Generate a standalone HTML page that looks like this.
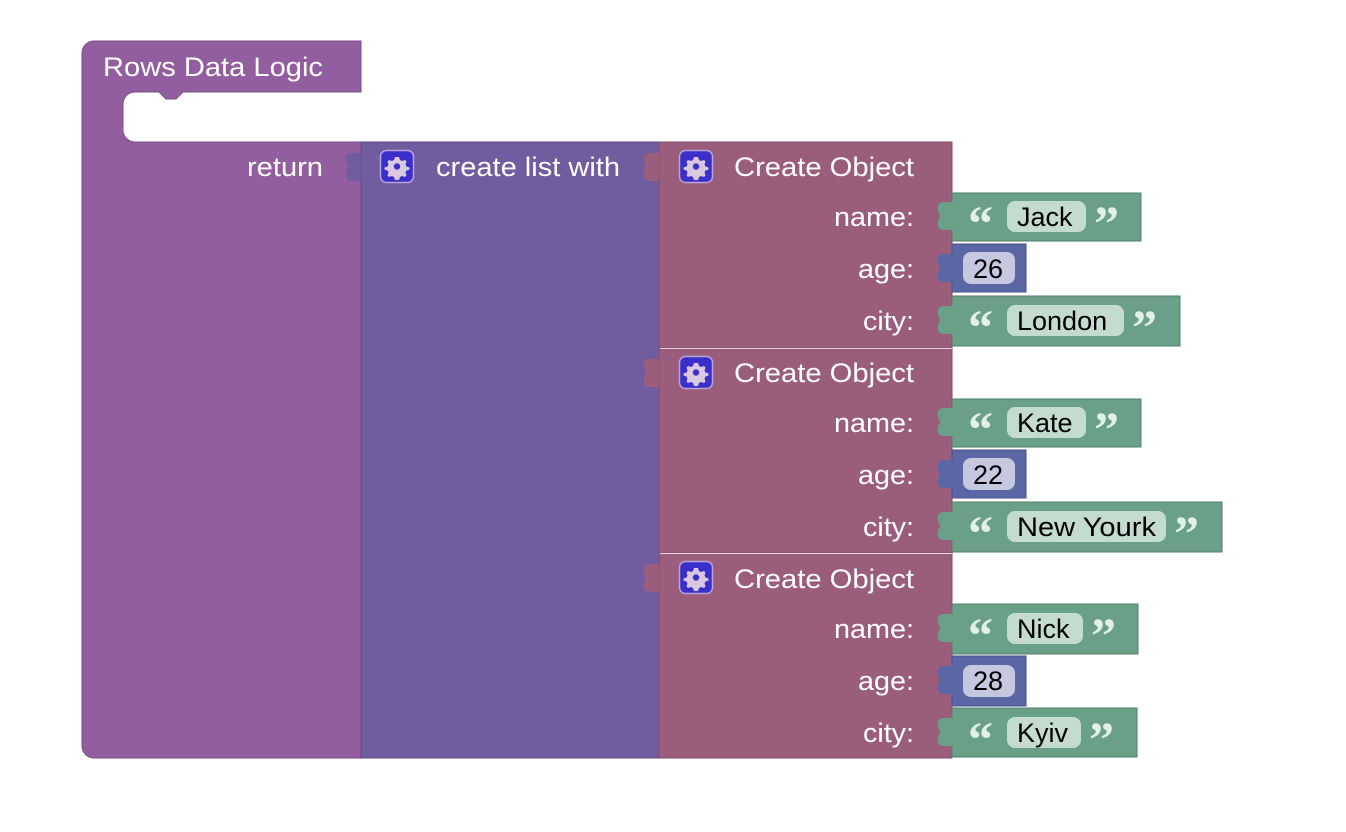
<!DOCTYPE html>
<html><head><meta charset="utf-8"><style>
html,body{margin:0;padding:0;background:#fff;width:1346px;height:832px;overflow:hidden}
text{font-family:"Liberation Sans",Arial,sans-serif;font-size:27px}
.w{fill:#fff}
.b{fill:#000}
.q{font-family:"Liberation Serif",serif;font-weight:bold;font-size:50px;fill:#e2f0e8}
</style></head><body>
<svg width="1346" height="832" viewBox="0 0 1346 832" xmlns="http://www.w3.org/2000/svg">
<defs>
<path id="tab" d="M16,0 H7 C3,0 1,2 1,5 C0,10 3,12 3,14 C3,16 0,18 1,23 C1,26 3,28 7,28 H16 Z"/>
<g id="gear">
<rect x="0.5" y="0.5" width="33" height="32" rx="6" fill="#3b2fcc" stroke="#b9a6d6" stroke-width="1.5"/>
<path d="M17,7 l2,0 1,3 2,1 3,-1 1.5,1.5 -1,3 1,2 3,1 0,2 -3,1 -1,2 1,3 -1.5,1.5 -3,-1 -2,1 -1,3 h-4 l-1,-3 -2,-1 -3,1 -1.5,-1.5 1,-3 -1,-2 -3,-1 v-2 l3,-1 1,-2 -1,-3 1.5,-1.5 3,1 2,-1 1,-3 z" fill="#d9c8e0"/>
<circle cx="17" cy="16.5" r="3.2" fill="#3b2fcc"/>
</g>
</defs>
<path d="M82,53 a12,12 0 0 1 12,-12 H361 V92 H183 l-7,7 h-10 l-7,-7 H135 a12,12 0 0 0 -12,12 V130 a12,12 0 0 0 12,12 H361 V758 H94 a12,12 0 0 1 -12,-12 Z" fill="#925e9f" stroke="#7c4c88" stroke-width="1"/>
<text x="103" y="76" class="w" textLength="220" lengthAdjust="spacingAndGlyphs">Rows Data Logic</text>
<text x="247" y="176" class="w" textLength="76" lengthAdjust="spacingAndGlyphs">return</text>
<rect x="361" y="142" width="298" height="616" fill="#705c9e" stroke="#5e4b8a" stroke-width="1"/>
<use href="#tab" x="345" y="153" fill="#705c9e"/>
<use href="#gear" x="380" y="150"/>
<text x="436" y="176" class="w" textLength="184" lengthAdjust="spacingAndGlyphs">create list with</text>

<rect x="659" y="142" width="293" height="206" fill="#9a5e7c" stroke="#824a66" stroke-width="1"/>
<rect x="659" y="348" width="293" height="205" fill="#9a5e7c" stroke="#824a66" stroke-width="1"/>
<rect x="659" y="553" width="293" height="205" fill="#9a5e7c" stroke="#824a66" stroke-width="1"/>
<line x1="660" y1="348.5" x2="952" y2="348.5" stroke="#e8d6e0" stroke-width="1"/>
<line x1="660" y1="553.5" x2="952" y2="553.5" stroke="#e8d6e0" stroke-width="1"/>
<use href="#tab" x="643" y="153" fill="#9a5e7c"/>
<use href="#tab" x="643" y="359" fill="#9a5e7c"/>
<use href="#tab" x="643" y="564" fill="#9a5e7c"/>
<use href="#gear" x="679" y="150"/>
<use href="#gear" x="679" y="356"/>
<use href="#gear" x="679" y="561"/>
<text x="734" y="176" class="w" textLength="180" lengthAdjust="spacingAndGlyphs">Create Object</text>
<text x="734" y="382" class="w" textLength="180" lengthAdjust="spacingAndGlyphs">Create Object</text>
<text x="734" y="588" class="w" textLength="180" lengthAdjust="spacingAndGlyphs">Create Object</text>
<text x="834" y="226" class="w" textLength="80" lengthAdjust="spacingAndGlyphs">name:</text>
<text x="858" y="278" class="w" textLength="56" lengthAdjust="spacingAndGlyphs">age:</text>
<text x="863" y="330" class="w" textLength="51" lengthAdjust="spacingAndGlyphs">city:</text>
<text x="834" y="432" class="w" textLength="80" lengthAdjust="spacingAndGlyphs">name:</text>
<text x="858" y="484" class="w" textLength="56" lengthAdjust="spacingAndGlyphs">age:</text>
<text x="863" y="536" class="w" textLength="51" lengthAdjust="spacingAndGlyphs">city:</text>
<text x="834" y="638" class="w" textLength="80" lengthAdjust="spacingAndGlyphs">name:</text>
<text x="858" y="690" class="w" textLength="56" lengthAdjust="spacingAndGlyphs">age:</text>
<text x="863" y="742" class="w" textLength="51" lengthAdjust="spacingAndGlyphs">city:</text>

<rect x="952" y="193" width="189" height="48" fill="#6aa088" stroke="#4f7f68" stroke-width="1"/>
<use href="#tab" x="937" y="202" fill="#6aa088"/>
<text x="968" y="240" class="q">“</text>
<rect x="1007" y="201" width="79" height="31" rx="8" fill="#c4dccf"/>
<text x="1017" y="226" class="b">Jack</text>
<text x="1094" y="240" class="q">”</text>
<rect x="952" y="244" width="74" height="48" fill="#5b67a5" stroke="#46528a" stroke-width="1"/>
<use href="#tab" x="937" y="254" fill="#5b67a5"/>
<rect x="963" y="252" width="52" height="32" rx="8" fill="#c6c8e0"/>
<text x="973" y="278" class="b">26</text>
<rect x="952" y="296" width="228" height="50" fill="#6aa088" stroke="#4f7f68" stroke-width="1"/>
<use href="#tab" x="937" y="306" fill="#6aa088"/>
<text x="968" y="344" class="q">“</text>
<rect x="1007" y="305" width="117" height="31" rx="8" fill="#c4dccf"/>
<text x="1017" y="330" class="b">London</text>
<text x="1132" y="344" class="q">”</text>

<rect x="952" y="399" width="189" height="48" fill="#6aa088" stroke="#4f7f68" stroke-width="1"/>
<use href="#tab" x="937" y="408" fill="#6aa088"/>
<text x="968" y="446" class="q">“</text>
<rect x="1007" y="407" width="79" height="31" rx="8" fill="#c4dccf"/>
<text x="1017" y="432" class="b">Kate</text>
<text x="1094" y="446" class="q">”</text>
<rect x="952" y="450" width="74" height="48" fill="#5b67a5" stroke="#46528a" stroke-width="1"/>
<use href="#tab" x="937" y="460" fill="#5b67a5"/>
<rect x="963" y="458" width="52" height="32" rx="8" fill="#c6c8e0"/>
<text x="973" y="484" class="b">22</text>
<rect x="952" y="502" width="270" height="50" fill="#6aa088" stroke="#4f7f68" stroke-width="1"/>
<use href="#tab" x="937" y="512" fill="#6aa088"/>
<text x="968" y="550" class="q">“</text>
<rect x="1007" y="511" width="159" height="31" rx="8" fill="#c4dccf"/>
<text x="1017" y="536" class="b" textLength="139" lengthAdjust="spacingAndGlyphs">New Yourk</text>
<text x="1174" y="550" class="q">”</text>

<rect x="952" y="604" width="186" height="50" fill="#6aa088" stroke="#4f7f68" stroke-width="1"/>
<use href="#tab" x="937" y="614" fill="#6aa088"/>
<text x="968" y="652" class="q">“</text>
<rect x="1007" y="613" width="76" height="31" rx="8" fill="#c4dccf"/>
<text x="1017" y="638" class="b">Nick</text>
<text x="1091" y="652" class="q">”</text>
<rect x="952" y="656" width="74" height="50" fill="#5b67a5" stroke="#46528a" stroke-width="1"/>
<use href="#tab" x="937" y="666" fill="#5b67a5"/>
<rect x="963" y="665" width="52" height="32" rx="8" fill="#c6c8e0"/>
<text x="973" y="690" class="b">28</text>
<rect x="952" y="708" width="185" height="49" fill="#6aa088" stroke="#4f7f68" stroke-width="1"/>
<use href="#tab" x="937" y="718" fill="#6aa088"/>
<text x="968" y="756" class="q">“</text>
<rect x="1007" y="717" width="74" height="31" rx="8" fill="#c4dccf"/>
<text x="1017" y="742" class="b">Kyiv</text>
<text x="1089" y="756" class="q">”</text>
</svg>
</body></html>
